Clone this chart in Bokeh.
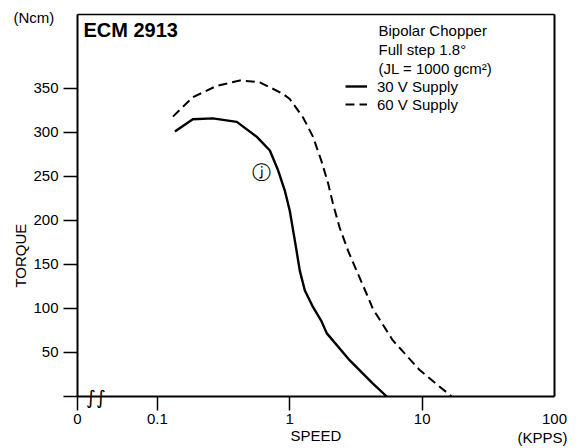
import math
from bokeh.plotting import figure
from bokeh.models import FixedTicker, Label, Legend, LegendItem, LinearAxis, LogAxis
from bokeh.embed import file_html
from bokeh.resources import INLINE

# ---- data (speed in kpps, torque in Ncm) ----
speed_30v = [0.1355, 0.185, 0.262, 0.398, 0.564, 0.707, 0.816, 0.917, 1.0, 1.059, 1.124, 1.19,
             1.30, 1.50, 1.73, 1.90, 2.84, 4.23, 5.40]
torque_30v = [301, 315, 316, 312, 295, 279.5, 257, 234, 211, 189, 166, 143,
              120.5, 101.5, 86, 72, 41, 15, 0]
speed_60v = [0.131, 0.185, 0.281, 0.420, 0.594, 0.885, 1.0, 1.26, 1.50, 1.73, 1.95, 2.12,
             2.38, 2.75, 3.28, 3.90, 4.23, 5.99, 9.58, 16.7]
torque_60v = [318, 340, 353, 359, 357, 344, 338, 317, 295, 268, 242, 219,
              192, 166, 139, 113, 100, 64, 30, 0]

x_zero = 0.0249   # position of the broken-axis "0"
x_max = 100
y_max = 434
x_ticks = [x_zero, 0.1, 1, 10]
x_tick_labels = ["0", "0.1", "1", "10"]
x_end_tick = [100]
x_end_label = ["100"]
y_ticks = [0, 50, 100, 150, 200, 250, 300, 350]
y_tick_labels = ["", "50", "100", "150", "200", "250", "300", "350"]
info_lines = ["Bipolar Chopper", "Full step 1.8°", "(JL = 1000 gcm²)"]
series_names = ["30 V Supply", "60 V Supply"]

FONT = "Liberation Sans"
TICK_SIZE = "15px"

# ---- layout (pixels) ----
W, H = 575, 446
FX0, FX1 = 77, 554      # x of the left and right border
FY_TOP, FY_BOT = 14, 396  # y of the top border and of the x axis

lx0, lx1 = math.log10(x_zero), math.log10(x_max)
ppd = (FX1 - FX0) / (lx1 - lx0)
x_start = 10 ** (lx0 - FX0 / ppd)
x_end = 10 ** (lx1 + (W - FX1) / ppd)
ppu = (FY_BOT - FY_TOP) / y_max
y_start = -(H - FY_BOT) / ppu
y_end = y_max + FY_TOP / ppu

p = figure(width=W, height=H, x_axis_type="log",
           x_range=(x_start, x_end), y_range=(y_start, y_end),
           x_axis_location=None, y_axis_location=None,
           output_backend="svg", toolbar_location=None,
           min_border=0, min_border_left=0, min_border_right=0,
           min_border_top=0, min_border_bottom=0)

p.grid.visible = False
p.outline_line_color = None
p.background_fill_color = "white"
p.border_fill_color = "white"

r30 = p.line(speed_30v, torque_30v, line_color="black", line_width=2.4)
r60 = p.line(speed_60v, torque_60v, line_color="black", line_width=2.0, line_dash="9 5")


def make_axis(cls, loc, bounds, ticks, labels, standoff=4, tick_out=14,
              line_width=2, line=True, font=FONT, size=TICK_SIZE):
    ax = cls(fixed_location=loc, bounds=bounds, ticker=FixedTicker(ticks=ticks),
             major_label_overrides=dict(zip(ticks, labels)),
             axis_line_color="black" if line else None, axis_line_width=line_width,
             major_tick_line_color="black" if tick_out else None,
             major_tick_line_width=1.5, minor_tick_line_color=None,
             major_tick_out=tick_out, major_tick_in=0,
             major_label_standoff=standoff, major_label_text_font=font,
             major_label_text_font_size=size, major_label_text_color="black",
             axis_label_text_font=FONT, axis_label_text_font_size="15px",
             axis_label_text_font_style="normal", axis_label_text_color="black")
    return ax


# left (torque) axis and bottom (speed) axis
yax = make_axis(LinearAxis, x_zero, (0, y_max), y_ticks, y_tick_labels, standoff=5)
p.add_layout(yax, "left")
xax = make_axis(LogAxis, 0, (x_zero, x_max), x_ticks, x_tick_labels, standoff=3)
xax.axis_label = "SPEED"
xax.axis_label_standoff = 0
p.add_layout(xax, "below")

# top and right border lines
p.add_layout(make_axis(LogAxis, y_max, (x_zero, x_max), [], [], tick_out=0, line_width=1.5), "above")
p.add_layout(make_axis(LinearAxis, x_max, (0, y_max), [], [], tick_out=0, line_width=2), "right")

# "100" label at the right end (no tick mark in the original)
p.add_layout(make_axis(LogAxis, 0, (x_zero, x_max), x_end_tick, x_end_label,
                       standoff=17, tick_out=0, line=False), "below")

# axis titles and units
p.add_layout(Label(x=x_zero, y=160, text="TORQUE", angle=math.pi / 2, x_offset=-57,
                   text_font=FONT, text_font_size="15px", text_color="black",
                   text_align="center", text_baseline="middle"))
p.add_layout(Label(x=x_zero, y=y_max, text="(Ncm)", x_offset=-64, y_offset=-3,
                   text_font=FONT, text_font_size="15px", text_color="black",
                   text_align="left", text_baseline="middle"))
p.add_layout(Label(x=x_max, y=0, text="(KPPS)", x_offset=13, y_offset=-41,
                   text_font=FONT, text_font_size="15px", text_color="black",
                   text_align="right", text_baseline="middle"))

# axis break mark
p.add_layout(Label(x=0.0343, y=0, text="∫∫",
                   text_font="DejaVu Sans", text_font_size="19px", text_color="black",
                   text_align="center", text_baseline="middle"))

# legend for the two series
legend = Legend(items=[LegendItem(label=series_names[0], renderers=[r30]),
                       LegendItem(label=series_names[1], renderers=[r60])],
                location=(FX0 + 268, (H - FY_BOT) + 283), glyph_width=22, glyph_height=18,
                label_height=18, label_standoff=10, padding=0, margin=0,
                spacing=0, border_line_color=None, background_fill_alpha=0,
                label_text_font=FONT, label_text_font_size="15px",
                label_text_color="black")
p.add_layout(legend)

# info text block (anchored at top-right corner of the border)
for i, t in enumerate(info_lines):
    p.add_layout(Label(x=x_max, y=y_max, text=t, x_offset=-176, y_offset=-16 - 19 * i,
                       text_font=FONT, text_font_size="15px", text_color="black",
                       text_align="left", text_baseline="middle"))

# title inside the frame
p.add_layout(Label(x=x_zero, y=y_max, text="ECM 2913", x_offset=6, y_offset=-15,
                   text_font=FONT, text_font_size="20px", text_font_style="bold",
                   text_color="black", text_align="left", text_baseline="middle"))

# curve marker
p.add_layout(Label(x=0.615, y=254.5, text="ⓙ",
                   text_font="DejaVu Sans", text_font_size="19px", text_color="black",
                   text_align="center", text_baseline="middle"))

open("out.html", "w").write(file_html(p, INLINE))
